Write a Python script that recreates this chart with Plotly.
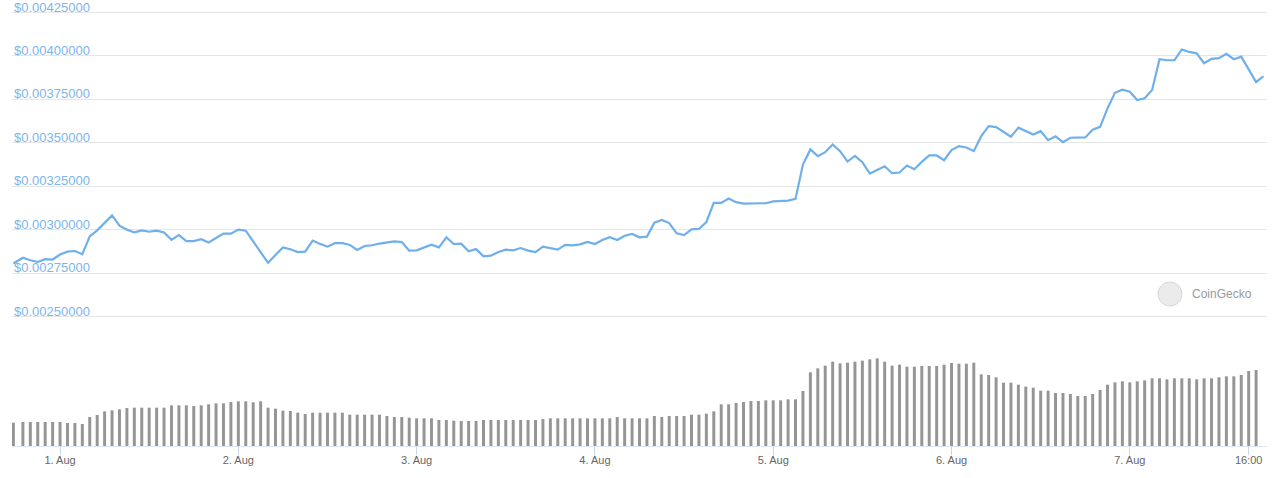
import plotly.graph_objects as go
import pandas as pd

# price (USD) per hour
price = [
    0.002805, 0.002838, 0.002824, 0.002814, 0.002830, 0.002828, 0.002857, 0.002873, 0.002877, 0.002859,
    0.002961, 0.002996, 0.003039, 0.003082, 0.003023, 0.003000, 0.002984, 0.002996, 0.002988, 0.002994,
    0.002984, 0.002941, 0.002969, 0.002934, 0.002934, 0.002945, 0.002926, 0.002951, 0.002977, 0.002977,
    0.003000, 0.002994, 0.002932, 0.002869, 0.002809, 0.002854, 0.002898, 0.002887, 0.002871, 0.002873,
    0.002937, 0.002918, 0.002902, 0.002922, 0.002922, 0.002912, 0.002883, 0.002906, 0.002910, 0.002920,
    0.002924, 0.002932, 0.002928, 0.002879, 0.002881, 0.002896, 0.002913, 0.002898, 0.002956, 0.002917,
    0.002919, 0.002875, 0.002888, 0.002846, 0.002850, 0.002871, 0.002885, 0.002881, 0.002894, 0.002879,
    0.002871, 0.002902, 0.002894, 0.002885, 0.002912, 0.002910, 0.002915, 0.002929, 0.002917, 0.002940,
    0.002956, 0.002940, 0.002965, 0.002975, 0.002956, 0.002960, 0.003040, 0.003056, 0.003038, 0.002979,
    0.002969, 0.003002, 0.003004, 0.003044, 0.003154, 0.003154, 0.003179, 0.003158, 0.003150, 0.003150,
    0.003154, 0.003152, 0.003163, 0.003167, 0.003167, 0.003177, 0.003375, 0.003462, 0.003423, 0.003446,
    0.003490, 0.003452, 0.003392, 0.003425, 0.003388, 0.003323, 0.003344, 0.003365, 0.003325, 0.003329,
    0.003369, 0.003348, 0.003390, 0.003427, 0.003427, 0.003400, 0.003458, 0.003481, 0.003473, 0.003452,
    0.003538, 0.003596, 0.003590, 0.003560, 0.003535, 0.003587, 0.003567, 0.003548, 0.003567, 0.003515,
    0.003537, 0.003504, 0.003529, 0.003531, 0.003531, 0.003575, 0.003592, 0.003698, 0.003788, 0.003806,
    0.003794, 0.003746, 0.003756, 0.003804, 0.003981, 0.003975, 0.003975, 0.004037, 0.004023, 0.004015,
    0.003958, 0.003983, 0.003987, 0.004012, 0.003981, 0.003996, 0.003923, 0.003850, 0.003883,
]

# traded volume per hour (relative units)
volume = [
    70, 72, 72, 72, 72, 72, 72, 69, 69, 66, 87, 93, 104, 107, 110, 114, 115, 115, 115, 115,
    115, 122, 122, 122, 120, 122, 125, 128, 128, 132, 134, 134, 131, 134, 115, 112, 106, 105, 100, 96,
    100, 100, 100, 100, 100, 94, 94, 94, 94, 94, 90, 87, 87, 85, 83, 83,
    83, 78, 78, 76, 75, 75, 75, 78, 78, 78, 78, 78, 78, 78, 78, 81, 83, 83, 83, 83,
    83, 83, 83, 83, 83, 87, 83, 83, 83, 83, 90, 87, 90, 90, 90, 94, 94, 97, 104, 125,
    125, 129, 132, 135, 135, 137, 137, 137, 140, 140, 165, 221, 233, 241, 253, 248, 250, 253,
    256, 260, 263, 253, 241, 244, 238, 238, 240, 240, 240, 244, 249, 247, 247, 250, 215, 213, 206, 190,
    190, 184, 178, 175, 166, 166, 159, 159, 156, 150, 150, 156, 168, 184, 191, 194, 191, 194, 197, 203,
    203, 200, 203, 203, 203, 200, 203, 203, 206, 209, 209, 213, 225, 228,
]

# timestamps: first sample, then hourly
times = [pd.Timestamp('2021-07-31 17:43')] + list(pd.date_range('2021-07-31 19:00', periods=168, freq='h'))

price_ticks = [0.0025, 0.00275, 0.003, 0.00325, 0.0035, 0.00375, 0.004, 0.00425]

tick_vals = ['2021-08-01', '2021-08-02', '2021-08-03', '2021-08-04', '2021-08-05',
             '2021-08-06', '2021-08-07', '2021-08-07 16:00']
tick_text = ['1. Aug', '2. Aug', '3. Aug', '4. Aug', '5. Aug', '6. Aug', '7. Aug', '16:00']

W, H = 1280, 478

# price axis: 0.0025 -> y=316.5, 0.00425 -> y=12.5 ; pad 3px each side so edge grid lines are kept
px_per_unit = (316.5 - 12.5) / (0.00425 - 0.0025)
pad = 3 / px_per_unit

fig = go.Figure()
fig.add_trace(go.Bar(x=times, y=volume, yaxis='y2',
                     marker={'color': '#959595', 'line': {'width': 0}},
                     width=0.4 * 3600000))
fig.add_trace(go.Scatter(x=times, y=price, yaxis='y', mode='lines',
                         line={'color': '#6fafea', 'width': 2.2}))

fig.update_layout(
    width=W, height=H,
    margin={'l': 0, 'r': 0, 't': 0, 'b': 0},
    paper_bgcolor='white', plot_bgcolor='white',
    showlegend=False,
    font={'family': 'Liberation Sans, Arial, sans-serif'},
    xaxis=dict(type='date', domain=[12 / W, 1267 / W],
               range=['2021-07-31 17:32', '2021-08-07 18:28'],
               anchor='y2', showgrid=False, zeroline=False,
               showline=True, linecolor='#dfe5f2', linewidth=1,
               ticks='outside', ticklen=8, tickcolor='#ccd6eb', tickwidth=1,
               ticklabelstandoff=-4,
               tickvals=tick_vals, ticktext=tick_text,
               tickfont={'size': 11, 'color': '#666666'}),
    yaxis=dict(domain=[(H - 319.5) / H, (H - 9.5) / H],
               range=[0.0025 - pad, 0.00425 + pad], tickvals=price_ticks,
               showticklabels=False,
               showgrid=True, gridcolor='#e6e6e6', gridwidth=1,
               zeroline=False, showline=False, anchor='x'),
    yaxis2=dict(domain=[(H - 446) / H, (H - 340) / H], range=[0, 318],
                showgrid=False, zeroline=False, showticklabels=False, anchor='x'),
)

# price labels sit above their grid lines, at the left edge
for v in price_ticks:
    fig.add_annotation(text='${:.8f}'.format(v), xref='paper', yref='y',
                       x=12 / W, y=v, xanchor='left', yanchor='bottom', yshift=-4,
                       showarrow=False, font={'size': 13, 'color': '#7cb5ec'})

# CoinGecko watermark
fig.add_shape(type='circle', xref='paper', yref='paper',
              x0=1158 / W, x1=1182 / W, y0=(H - 306) / H, y1=(H - 282) / H,
              fillcolor='#ebebeb', line={'color': '#d6d6d6', 'width': 1}, layer='below')
fig.add_annotation(text='CoinGecko', xref='paper', yref='paper',
                   x=1190 / W, y=(H - 294) / H, xanchor='left', yanchor='middle',
                   showarrow=False, font={'size': 12, 'color': '#9a9a9a'})

fig.write_html('out.html', config={'displayModeBar': False},
               post_script="document.body.style.margin='0';")
